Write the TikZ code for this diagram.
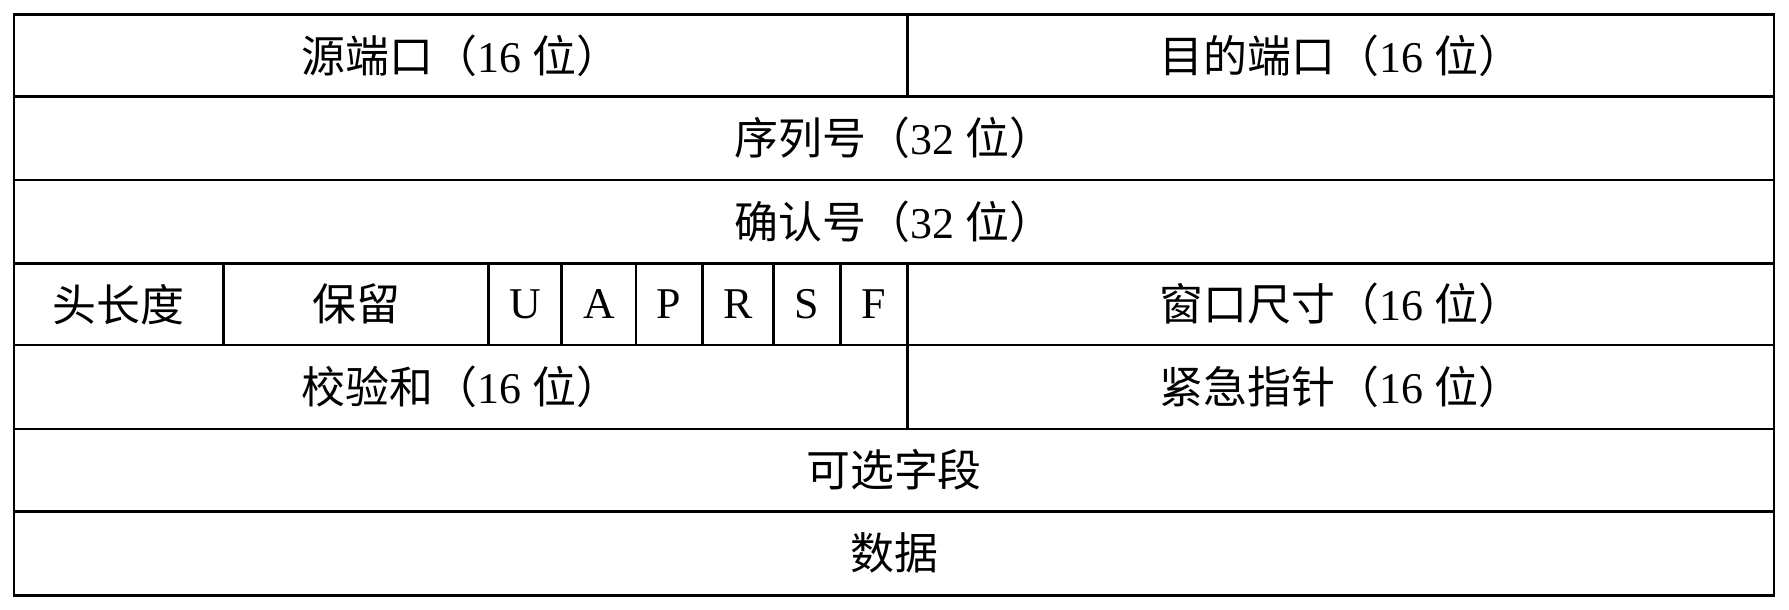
\documentclass[tikz,border=0pt]{standalone}
\usepackage{fontspec}
\setmainfont{Liberation Serif}
\newfontfamily\cjk{Noto Sans CJK SC}
\newcommand{\zh}[1]{{\cjk #1}}

\begin{document}
\begin{tikzpicture}[x=0.02cm, y=-0.02cm, line width=1.5pt, font=\fontsize{25}{28}\selectfont]
  \useasboundingbox (0,0) rectangle (1789,609);
  % frame and row lines
  \draw (14,14.5) rectangle (1774,595.3);
  \foreach \y in {96.3,180,263.3,345,429,511.3}
    \draw (14,\y) -- (1774,\y);
  \draw (907.7,14.5) -- (907.7,96.3);
  \draw (907.7,263.3) -- (907.7,429);
  \foreach \x in {223.3,488.7,561.7,636,702.3,773.3,840.7}
    \draw (\x,263.3) -- (\x,345);
  % fields
  \node (srcport) at (461,55.4) {\zh{源端口（}16 \zh{位）}};
  \node (dstport) at (1341,55.4) {\zh{目的端口（}16 \zh{位）}};
  \node (seqnum) at (894,138.2) {\zh{序列号（}32 \zh{位）}};
  \node (acknum) at (894,221.7) {\zh{确认号（}32 \zh{位）}};
  \node (hdrlen) at (118.6,304.2) {\zh{头长度}};
  \node (reserved) at (356,304.2) {\zh{保留}};
  \node (flagU) at (525.2,304.2) {U};
  \node (flagA) at (598.9,304.2) {A};
  \node (flagP) at (669.2,304.2) {P};
  \node (flagR) at (737.8,304.2) {R};
  \node (flagS) at (807,304.2) {S};
  \node (flagF) at (874.2,304.2) {F};
  \node (window) at (1341,304.2) {\zh{窗口尺寸（}16 \zh{位）}};
  \node (checksum) at (461,387) {\zh{校验和（}16 \zh{位）}};
  \node (urgent) at (1341,387) {\zh{紧急指针（}16 \zh{位）}};
  \node (options) at (894,470.2) {\zh{可选字段}};
  \node (data) at (894,553.3) {\zh{数据}};
\end{tikzpicture}
\end{document}
